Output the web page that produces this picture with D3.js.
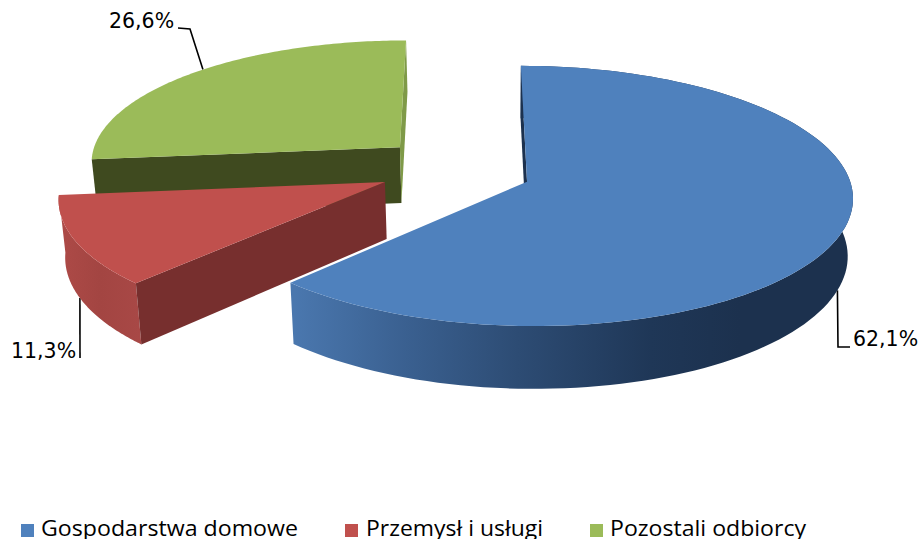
<!DOCTYPE html>
<html><head><meta charset="utf-8">
<style>html,body{margin:0;padding:0;background:#fff;overflow:hidden}svg{display:block}</style>
<script src="https://cdn.jsdelivr.net/npm/d3@7/dist/d3.min.js"></script>
</head><body><div id="c"></div>
<script>
const categories = ["Gospodarstwa domowe", "Przemysł i usługi", "Pozostali odbiorcy"];
const shares = [62.1, 11.3, 26.6];
const shareLabels = ["62,1%", "11,3%", "26,6%"];
const topColors = ["#4f81bd", "#c0504d", "#9bbb59"];
const startWallColors = ["#1c314e", "#772f2e", "#3f4a1f"];
const endWallColors = [null, null, "#7f9a48"];
const outerWallVisible = [true, true, false];

const W = 919, H = 539;
const svg = d3.select("#c").append("svg").attr("width", W).attr("height", H);

// perspective plane
const R = 323, persp = 0.11, vpX = 465, horizonY = -986, planeH = 1167;
const offX = [62, -80, -67], offY = [-0.005, -0.008, 0.27], radius = [1, 1, 0.975];
const project = (i, a, r = 1) => {
  const k = r * radius[i];
  const X = offX[i] + R * k * Math.sin(a), Y = offY[i] + k * Math.cos(a), w = 1 + persp * Y;
  return [vpX + X / w, horizonY + planeH / w];
};
const lower = ([x, y]) => [x + (500 - x) * 0.015, y + 57 + 0.04 * (y - 181)];

const arcs = d3.pie().sort(null)(shares);
const line = d3.line();
const sample = (i, a0, a1) => d3.range(0, 121).map(k => project(i, a0 + (a1 - a0) * k / 120));

const defs = svg.append("defs");
const gradient = (id, x1, x2, stops) => {
  const g = defs.append("linearGradient").attr("id", id).attr("gradientUnits", "userSpaceOnUse")
    .attr("x1", x1).attr("x2", x2).attr("y1", 0).attr("y2", 0);
  stops.forEach(([o, c]) => g.append("stop").attr("offset", o).attr("stop-color", c));
};
gradient("w0", 295, 740, [[0, "#4a77ae"], [0.25, "#3a6090"], [0.5, "#2d4c74"], [0.8, "#1f3757"], [1, "#1c314e"]]);
gradient("w1", 60, 140, [[0, "#ad4a47"], [0.5, "#a34542"], [1, "#a84846"]]);

// leaders
const leaderElbows = [[[838, 347], [850, 347]], [[80, 358]], [[190, 29], [178, 28]]];
const onWall = [true, true, false];
const leaderFraction = [0.5, 0.53, 0.53];
const leaders = svg.append("g");
arcs.forEach((d, i) => {
  let p = project(i, d.startAngle + (d.endAngle - d.startAngle) * leaderFraction[i]);
  if (onWall[i]) p = lower(p);
  leaders.append("path").attr("d", line([p, ...leaderElbows[i]]))
    .attr("fill", "none").attr("stroke", "#000").attr("stroke-width", 1.6);
});

// slices, far to near
[2, 1, 0].forEach(i => {
  const d = arcs[i], g = svg.append("g");
  const rim = sample(i, d.startAngle, d.endAngle);
  const apex = project(i, 0, 0);
  const wall = (a, b, fill) => g.append("path").attr("fill", fill)
    .attr("d", line([a, b, lower(b), lower(a)]) + "Z");
  if (outerWallVisible[i]) g.append("path").attr("fill", `url(#w${i})`)
    .attr("d", line([...rim, ...rim.map(lower).reverse()]) + "Z");
  wall(apex, rim[0], startWallColors[i]);
  if (endWallColors[i]) wall(apex, rim[rim.length - 1], endWallColors[i]);
  g.append("path").attr("fill", topColors[i]).attr("d", line([apex, ...rim]) + "Z");
});

// data labels
const labelX = [853, 11, 109], labelY = [340, 352, 22];
svg.append("g").selectAll("text").data(shareLabels).join("text")
  .attr("x", (d, i) => labelX[i]).attr("y", (d, i) => labelY[i])
  .attr("font-family", "DejaVu Sans").attr("font-size", 20.5).attr("fill", "#000")
  .attr("dominant-baseline", "middle").text(d => d);

// legend
const swatchX = [21, 345, 590], textX = [41, 366, 610], textW = [257, 177, 196];
const legend = svg.append("g");
categories.forEach((c, i) => {
  legend.append("rect").attr("x", swatchX[i]).attr("y", 524).attr("width", 13).attr("height", 13).attr("fill", topColors[i]);
  legend.append("text").attr("x", textX[i]).attr("y", 536).attr("font-family", "Open Sans").attr("font-size", 21)
    .attr("textLength", textW[i]).attr("lengthAdjust", "spacingAndGlyphs").attr("fill", "#000").text(c);
});
</script></body></html>
